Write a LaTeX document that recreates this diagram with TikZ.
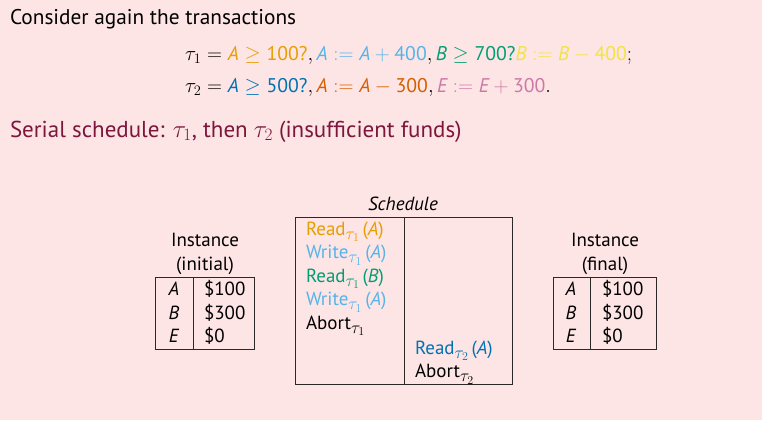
\documentclass[tikz,border=0pt]{standalone}
\usepackage{amsmath}
\usepackage{fontspec}
\setmainfont{PT Sans}
\definecolor{slidebg}{RGB}{253,228,229}
\definecolor{heading}{RGB}{125,22,60}
\definecolor{okorange}{RGB}{230,159,0}
\definecolor{oksky}{RGB}{86,180,233}
\definecolor{okgreen}{RGB}{0,158,115}
\definecolor{okyellow}{RGB}{240,228,66}
\definecolor{okblue}{RGB}{0,114,178}
\definecolor{okverm}{RGB}{213,94,0}
\definecolor{okpink}{RGB}{204,121,167}
\definecolor{rule}{RGB}{45,40,40}
% italic variable names and upright digits inside formulas
\newcommand\vr[1]{\textit{#1}}
\newcommand\nm[1]{\text{#1}}
% transaction index set below the operation name
\newcommand\txsub[1]{\raisebox{-0.22em}{\fontsize{16.5}{18}\selectfont$\tau_{#1}$}}
\begin{document}
\begin{tikzpicture}[x=1pt,y=-1pt,
  txt/.style={inner sep=0pt,outer sep=0pt,font=\fontsize{19}{21}\selectfont},
  lefttxt/.style={txt,anchor=base west},
  midtxt/.style={txt,anchor=base},
  mathline/.style={lefttxt,font=\fontsize{19.8}{23}\selectfont},
  tablebox/.style={draw=rule,line width=0.9pt,rectangle,inner sep=0pt},
  divider/.style={draw=rule,line width=0.9pt}]
\fill[slidebg] (0,0) rectangle (762,420);
\useasboundingbox (0,0) rectangle (762,420);

% heading text
\node[lefttxt,font=\fontsize{21.3}{23}\selectfont] (intro) at (10,25) {Consider again the transactions};
\node[mathline] (tone) at (185,60)
  {$\tau_1 = {\color{okorange}\vr{A} \geq \nm{100?}}, {\color{oksky}\vr{A} := \vr{A} + \nm{400}}, {\color{okgreen}\vr{B} \geq \nm{700?}}{\color{okyellow}\vr{B} := \vr{B} - \nm{400}};$};
\node[mathline] (ttwo) at (185,92)
  {$\tau_2 = {\color{okblue}\vr{A} \geq \nm{500?}}, {\color{okverm}\vr{A} := \vr{A} - \nm{300}}, {\color{okpink}\vr{E} := \vr{E} + \nm{300}}.$};
\node[lefttxt,font=\fontsize{23}{26}\selectfont,text=heading] (serial) at (10,137)
  {Serial schedule: $\tau_1$, then $\tau_2$ (insufficient funds)};

% initial instance
\node[midtxt] (inilabA) at (205,246) {Instance};
\node[midtxt] (inilabB) at (205,270) {(initial)};
\node[tablebox,minimum width=99pt,minimum height=72pt] (ini) at (205,313) {};
\coordinate (iniT) at (193,277);
\coordinate (iniB) at (193,349);
\draw[divider] (iniT) -- (iniB);
\node[midtxt] (iniA) at (174,295) {\vr{A}};
\node[midtxt] (iniBk) at (174,319) {\vr{B}};
\node[midtxt] (iniE) at (174,342) {\vr{E}};
\node[lefttxt] (iniAv) at (204,295) {\$100};
\node[lefttxt] (iniBv) at (204,319) {\$300};
\node[lefttxt] (iniEv) at (204,342) {\$0};

% schedule
\node[midtxt] (schedlab) at (403,210) {\textit{Schedule}};
\node[tablebox,minimum width=217pt,minimum height=167pt] (sched) at (403.5,301) {};
\coordinate (schT) at (404,217.5);
\coordinate (schB) at (404,384.5);
\draw[divider] (schT) -- (schB);
\node[lefttxt,text=okorange] (s1) at (306,235) {Read\txsub{1}\,(\vr{A})};
\node[lefttxt,text=oksky] (s2) at (306,258.5) {Write\txsub{1}\,(\vr{A})};
\node[lefttxt,text=okgreen] (s3) at (306,282) {Read\txsub{1}\,(\vr{B})};
\node[lefttxt,text=oksky] (s4) at (306,305.5) {Write\txsub{1}\,(\vr{A})};
\node[lefttxt] (s5) at (306,329) {Abort\txsub{1}};
\node[lefttxt,text=okblue] (s6) at (415,354) {Read\txsub{2}\,(\vr{A})};
\node[lefttxt] (s7) at (415,377.5) {Abort\txsub{2}};

% final instance
\node[midtxt] (finlabA) at (605,246) {Instance};
\node[midtxt] (finlabB) at (605,270) {(final)};
\node[tablebox,minimum width=103pt,minimum height=72pt] (fin) at (604.5,313) {};
\coordinate (finT) at (590,277);
\coordinate (finB) at (590,349);
\draw[divider] (finT) -- (finB);
\node[midtxt] (finA) at (571,295) {\vr{A}};
\node[midtxt] (finBk) at (571,319) {\vr{B}};
\node[midtxt] (finE) at (571,342) {\vr{E}};
\node[lefttxt] (finAv) at (602,295) {\$100};
\node[lefttxt] (finBv) at (602,319) {\$300};
\node[lefttxt] (finEv) at (602,342) {\$0};
\end{tikzpicture}
\end{document}
